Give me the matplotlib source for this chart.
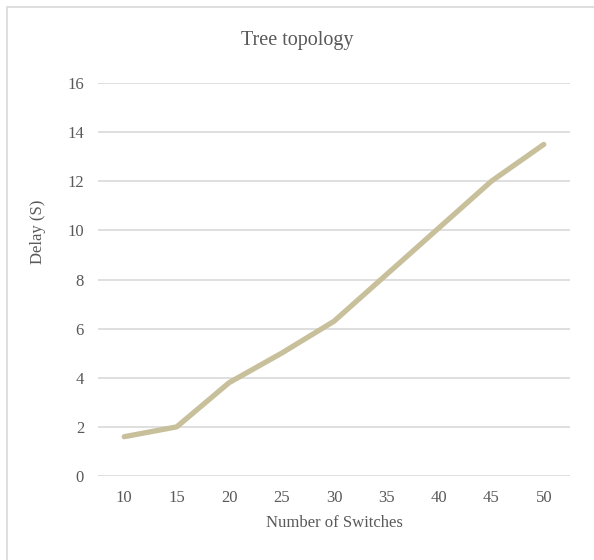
import matplotlib.pyplot as plt
from matplotlib.patches import Rectangle

switches = ['10', '15', '20', '25', '30', '35', '40', '45', '50']
delay = [1.6, 2.0, 3.8, 5.0, 6.3, 8.2, 10.1, 12.0, 13.5]

plt.rcParams['font.family'] = ['Liberation Serif', 'DejaVu Serif']
text_color = '#595959'
W, H = 594, 560

fig = plt.figure(figsize=(W / 100, H / 100), dpi=100)
ax = fig.add_axes([98 / W, 84 / H, 472 / W, 393 / H])

# chart frame
fig.patches.append(Rectangle((7 / W, -0.1), 1.2, (H - 7) / H + 0.1,
                             transform=fig.transFigure, fill=False,
                             edgecolor='#d9d9d9', linewidth=1.2))

x = range(len(switches))
ax.plot(x, delay, color='#c8bf9b', linewidth=3.8, solid_capstyle='round',
        solid_joinstyle='round')

ax.set_xlim(-0.5, len(switches) - 0.5)
ax.set_ylim(0, 16)
ax.set_yticks(range(0, 17, 2))
ax.set_xticks(list(x))
ax.set_xticklabels(switches)
ax.grid(axis='y', color='#d9d9d9', linewidth=1.2)
ax.set_axisbelow(True)
for s in ax.spines.values():
    s.set_visible(False)
ax.tick_params(length=0, colors=text_color, labelsize=12, pad=10)

fig.text(0.5, 1 - 41 / H, 'Tree topology', color=text_color, fontsize=14.5,
         ha='center', va='center')
fig.text(334 / W, 1 - 523 / H, 'Number of Switches', color=text_color,
         fontsize=12, ha='center', va='center')
fig.text(38 / W, 1 - 232 / H, 'Delay (S)', color=text_color, fontsize=12,
         ha='center', va='center', rotation=90)

fig.savefig('out.png', dpi=100)
